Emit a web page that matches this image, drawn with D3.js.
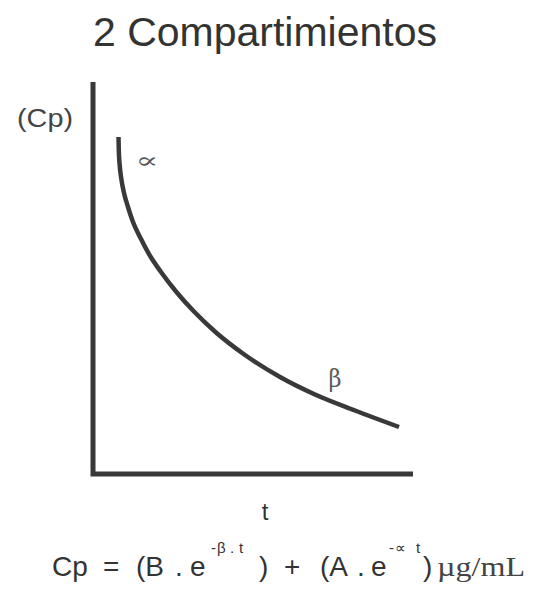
<!DOCTYPE html>
<html>
<head>
<meta charset="utf-8">
<script src="https://cdn.jsdelivr.net/npm/d3@7"></script>
<style>
  html, body { margin: 0; padding: 0; background: #ffffff; }
  svg { display: block; font-family: "Liberation Sans", Arial, sans-serif; }
</style>
</head>
<body>
<script>
// Plasma concentration decay, two-compartment model (schematic)
const timePoints = [0.797, 0.806, 0.831, 0.881, 0.969, 1.094, 1.25, 1.469, 1.75,
                    2.125, 2.594, 3.156, 3.844, 4.75, 5.844, 6.938, 8.188, 9.563];
const cpValues   = [8.597, 8.265, 7.908, 7.551, 7.168, 6.811, 6.429, 6.046, 5.612,
                    5.153, 4.656, 4.145, 3.610, 3.036, 2.474, 2.028, 1.620, 1.199];
const tDomain = [0, 10];
const cpDomain = [0, 10];
const phaseLabels = [
  { name: "∝", t: 1.69, cp: 7.81, size: 22, width: 23 },
  { name: "β", t: 7.56, cp: 2.22, size: 25, width: 13 }
];

const W = 535, H = 592;
const ink = "#3b3838";

const svg = d3.select("body").append("svg")
  .attr("width", W).attr("height", H);

const x = d3.scaleLinear().domain(tDomain).range([93, 413]);
const y = d3.scaleLinear().domain(cpDomain).range([474, 82]);

// Title
svg.append("text")
  .attr("x", 265).attr("y", 46)
  .attr("text-anchor", "middle")
  .attr("font-size", 41)
  .attr("fill", "#333")
  .attr("textLength", 344)
  .attr("lengthAdjust", "spacingAndGlyphs")
  .text("2 Compartimientos");

// Axes: plain L-shaped frame without ticks
svg.append("path")
  .attr("d", `M${x(0)},${y(cpDomain[1])} V${y(0)} H${x(tDomain[1])}`)
  .attr("fill", "none")
  .attr("stroke", ink)
  .attr("stroke-width", 5)
  .attr("stroke-linejoin", "miter");

// Axis labels
svg.append("text")
  .attr("x", 17).attr("y", 127)
  .attr("font-size", 26)
  .attr("fill", "#444")
  .attr("textLength", 56)
  .attr("lengthAdjust", "spacingAndGlyphs")
  .text("(Cp)");

svg.append("text")
  .attr("x", 265).attr("y", 520)
  .attr("text-anchor", "middle")
  .attr("font-size", 24)
  .attr("fill", "#333")
  .text("t");

// Concentration curve
const line = d3.line()
  .x((d, i) => x(timePoints[i]))
  .y(d => y(d))
  .curve(d3.curveMonotoneX);

svg.append("path")
  .datum(cpValues)
  .attr("d", line)
  .attr("fill", "none")
  .attr("stroke", ink)
  .attr("stroke-width", 4.5)
  .attr("stroke-linecap", "butt");

// Phase labels
svg.selectAll("text.phase")
  .data(phaseLabels)
  .join("text")
  .attr("class", "phase")
  .attr("x", d => x(d.t))
  .attr("y", d => y(d.cp))
  .attr("text-anchor", "middle")
  .attr("font-family", "'DejaVu Serif', serif")
  .attr("font-size", d => d.size)
  .attr("textLength", d => d.width)
  .attr("lengthAdjust", "spacingAndGlyphs")
  .attr("fill", "#5a5a5a")
  .text(d => d.name);

// Equation
const base = 576, sup = 553;
const eq = svg.append("text").attr("font-size", 28).attr("fill", "#333");
const parts = [
  { s: "Cp", x: 52, y: base },
  { s: "=", x: 103, y: base },
  { s: "(B", x: 136, y: base },
  { s: ".", x: 175, y: base },
  { s: "e", x: 190, y: base },
  { s: "-", x: 211, y: sup, fs: 15 },
  { s: "β", x: 217, y: sup, fs: 15 },
  { s: ".", x: 230, y: sup, fs: 15 },
  { s: "t", x: 239, y: sup, fs: 15 },
  { s: ")", x: 259, y: base },
  { s: "+", x: 284, y: base },
  { s: "(A", x: 320, y: base },
  { s: ".", x: 357, y: base },
  { s: "e", x: 371, y: base },
  { s: "-", x: 389, y: sup, fs: 15 },
  { s: "∝", x: 395, y: sup, fs: 15 },
  { s: "t", x: 416, y: sup, fs: 15 },
  { s: ")", x: 423, y: base }
];
parts.forEach(p => {
  eq.append("tspan")
    .attr("x", p.x).attr("y", p.y)
    .attr("font-size", p.fs || 28)
    .text(p.s);
});

svg.append("text")
  .attr("x", 437).attr("y", base)
  .attr("font-family", "'Liberation Serif', 'Times New Roman', serif")
  .attr("font-size", 27)
  .attr("fill", "#444")
  .attr("textLength", 88)
  .attr("lengthAdjust", "spacingAndGlyphs")
  .text("µg/mL");
</script>
</body>
</html>
